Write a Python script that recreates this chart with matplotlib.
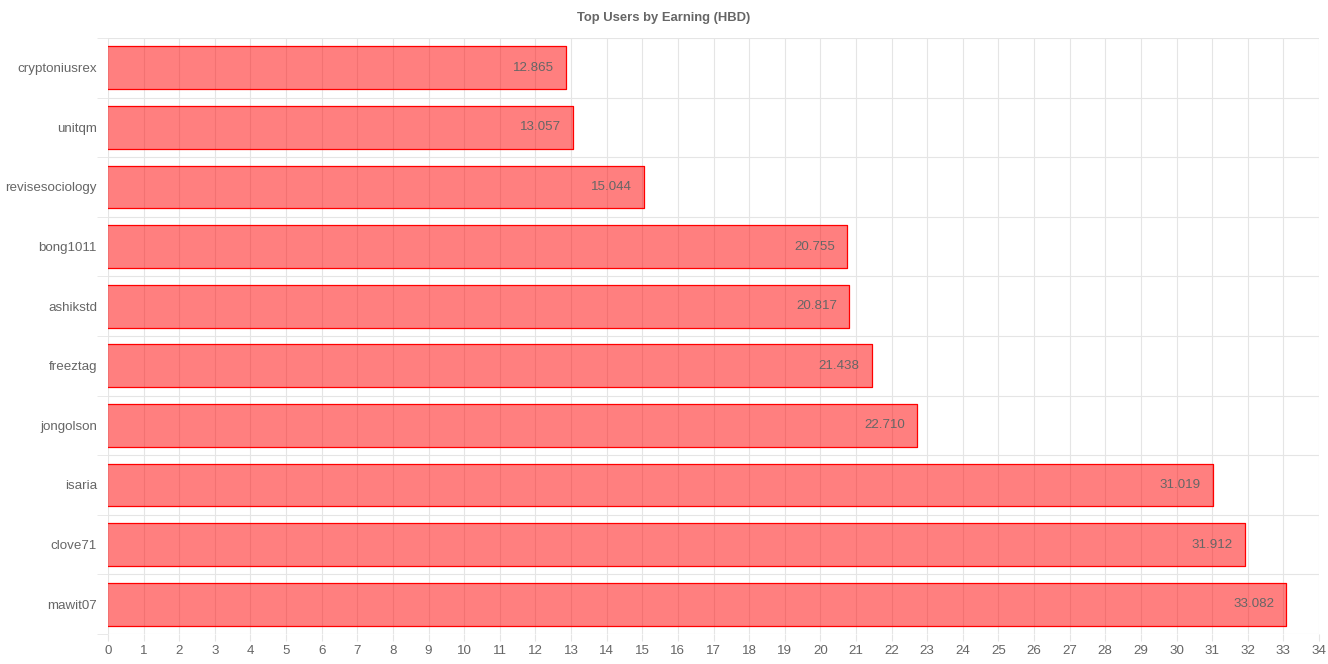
import numpy as np
import matplotlib.pyplot as plt

plt.rcParams['font.family'] = ['Liberation Sans', 'DejaVu Sans']

# data (top to bottom)
users = ['cryptoniusrex', 'unitqm', 'revisesociology', 'bong1011', 'ashikstd',
         'freeztag', 'jongolson', 'isaria', 'clove71', 'mawit07']
earnings = [12.865, 13.057, 15.044, 20.755, 20.817, 21.438, 22.710, 31.019, 31.912, 33.082]

TextGray = '#666666'
GridGray = '#e5e5e5'
FontSz = 9.6

fig, ax = plt.subplots(figsize=(13.28, 6.64), dpi=100)
fig.subplots_adjust(left=108/1328, right=1319/1328, top=1-38/664, bottom=1-634/664)

ypos = np.arange(len(users))
ax.barh(ypos, earnings, height=0.72, color=(1.0, 0.0, 0.0, 0.5), edgecolor='none', zorder=2)
# chart.js style border: top, bottom and end, no border at the start
for y, v in zip(ypos, earnings):
    ax.plot([0, v, v, 0], [y - 0.36, y - 0.36, y + 0.36, y + 0.36], color='#ff0000', linewidth=0.9, zorder=3)
    ax.annotate(f'{v:.3f}', xy=(v, y), xytext=(-8.6, 0), textcoords='offset points',
                ha='right', va='center', fontsize=FontSz, color=TextGray, zorder=4)

ax.set_xlim(0, 34)
ax.set_ylim(len(users) - 0.5, -0.5)

ax.set_xticks(np.arange(0, 35, 1))
ax.set_yticks(ypos)
ax.set_yticklabels(users)
ax.set_yticks(np.arange(-0.5, len(users), 1), minor=True)

ax.tick_params(axis='x', which='major', length=5, color=GridGray, labelsize=FontSz, labelcolor=TextGray, pad=3)
ax.tick_params(axis='y', which='major', length=0, labelsize=FontSz, labelcolor=TextGray, pad=8)
ax.tick_params(axis='y', which='minor', length=8, color=GridGray)

ax.grid(axis='x', which='major', color=GridGray, linewidth=0.8, zorder=0)
ax.grid(axis='y', which='minor', color=GridGray, linewidth=0.8, zorder=0)
ax.set_axisbelow(True)

for s in ax.spines.values():
    s.set_visible(False)

fig.suptitle('Top Users by Earning (HBD)', fontsize=9.4, fontweight='bold', color=TextGray, y=1-18/664, va='center')

plt.savefig('out.png', dpi=100)
